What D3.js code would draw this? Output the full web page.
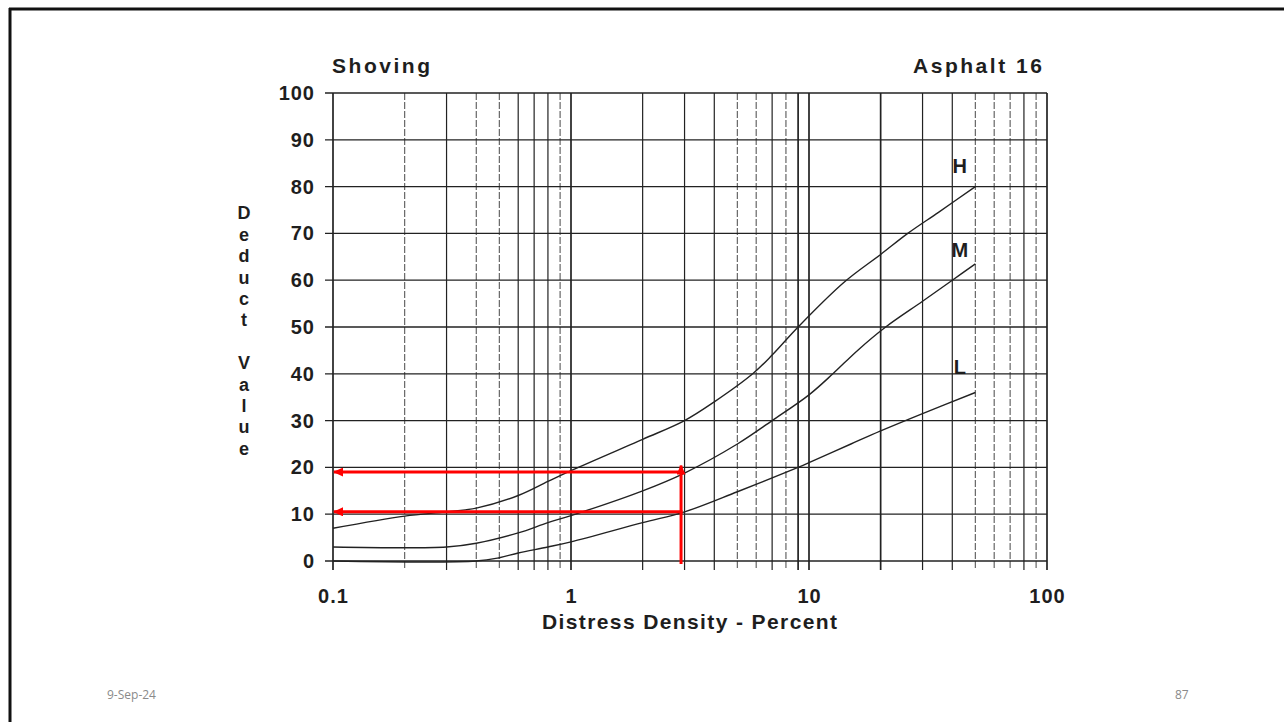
<!DOCTYPE html>
<html>
  <head>
    <meta charset="utf-8" />
    <title>Shoving - Asphalt 16</title>
    <style>
      body {
        margin: 0;
        background: #fff;
      }
      svg text {
        font-family: "Liberation Sans", Arial, sans-serif;
      }
      .scan {
        font-weight: bold;
        fill: #1e1e1e;
      }
      .foot {
        font-family: "Open Sans", sans-serif;
        font-size: 12px;
        fill: #8a8a8a;
      }
    </style>
  </head>
  <body>
    <svg id="chart" width="1284" height="722"></svg>

    <script src="https://d3js.org/d3.v7.min.js"></script>
    <script>
      // values
      var xTickValues = [0.1, 1, 10, 100];
      var yTickValues = [0, 10, 20, 30, 40, 50, 60, 70, 80, 90, 100];

      var hDensity = [0.1, 0.2, 0.3, 0.4, 0.6, 0.8, 1, 2, 3, 4, 5.8, 7, 9, 14, 20, 26, 35, 50];
      var hDeduct = [7, 9.6, 10.5, 11.3, 14, 17, 19.3, 26, 30, 34, 40, 44, 50, 59.5, 65.5, 70, 74.5, 80];

      var mDensity = [0.1, 0.3, 0.4, 0.6, 0.8, 1, 2, 3, 5, 7, 10, 12.6, 16, 21, 30, 40, 50];
      var mDeduct = [3, 3, 3.8, 6, 8.2, 9.7, 15, 18.8, 25, 30, 35.5, 40, 45, 50, 55.5, 60, 63.5];

      var lDensity = [0.1, 0.4, 0.5, 0.6, 0.8, 1, 2, 3, 5, 9, 10, 15, 20, 30, 50];
      var lDeduct = [0, 0, 0.7, 1.7, 3, 4.1, 8.2, 10.5, 14.8, 20, 21, 25, 27.8, 31.5, 36];

      var severities = ["H", "M", "L"];

      // red reading arrows
      var readDensity = 2.9;
      var readValues = [19, 10.5];

      var svg = d3.select("#chart");

      // slide frame (top and left edge visible)
      svg.append("line").attr("x1", 9).attr("x2", 1284).attr("y1", 9).attr("y2", 9)
        .attr("stroke", "#111").attr("stroke-width", 3);
      svg.append("line").attr("x1", 10).attr("x2", 10).attr("y1", 8).attr("y2", 722)
        .attr("stroke", "#111").attr("stroke-width", 3);

      var x = d3.scaleLog().domain([0.1, 100]).range([333, 1047]);
      var y = d3.scaleLinear().domain([0, 100]).range([561, 93]);

      // log grid (1..9 in each decade)
      var dashed = [0.2, 0.4, 0.5, 0.9, 5, 6, 8, 50, 60, 70, 90];
      var heavy = [0.1, 1, 9, 10, 20, 100];
      var inList = (list, d) => list.some((v) => Math.abs(v - d) < 1e-9);
      svg.append("g")
        .selectAll("line")
        .data(x.ticks())
        .enter()
        .append("line")
        .attr("x1", (d) => x(d))
        .attr("x2", (d) => x(d))
        .attr("y1", y(100))
        .attr("y2", y(0) + 9)
        .attr("stroke", (d) => (inList(dashed, d) ? "#666" : "#222"))
        .attr("stroke-width", (d) => (inList(heavy, d) ? 1.7 : 1.2))
        .attr("stroke-dasharray", (d) => (inList(dashed, d) ? "7,2" : null));

      svg.append("g")
        .selectAll("line")
        .data(yTickValues)
        .enter()
        .append("line")
        .attr("x1", x(0.1) - 8)
        .attr("x2", x(100))
        .attr("y1", (d) => y(d))
        .attr("y2", (d) => y(d))
        .attr("stroke", "#222")
        .attr("stroke-width", 1.3);

      // axes labels
      var yAxis = svg.append("g")
        .attr("transform", "translate(" + x(0.1) + ",0)")
        .call(d3.axisLeft(y).tickValues(yTickValues).tickSize(0).tickPadding(18));
      yAxis.select(".domain").remove();
      yAxis.selectAll("text").attr("class", "scan").style("font-size", "20px")
        .style("letter-spacing", "1px");

      var xAxis = svg.append("g")
        .attr("transform", "translate(0," + y(0) + ")")
        .call(d3.axisBottom(x).tickValues(xTickValues).tickFormat((d) => d).tickSize(0).tickPadding(28));
      xAxis.select(".domain").remove();
      xAxis.selectAll("text").attr("class", "scan").style("font-size", "20px")
        .style("letter-spacing", "1px");

      // curves
      var curves = [
        { name: "H", xs: hDensity, ys: hDeduct },
        { name: "M", xs: mDensity, ys: mDeduct },
        { name: "L", xs: lDensity, ys: lDeduct },
      ];
      var line = d3.line()
        .x((d) => x(d[0]))
        .y((d) => y(d[1]))
        .curve(d3.curveCatmullRom.alpha(0.5));

      svg.append("g")
        .selectAll("path")
        .data(curves)
        .enter()
        .append("path")
        .attr("d", (c) => line(c.xs.map((v, i) => [v, c.ys[i]])))
        .attr("fill", "none")
        .attr("stroke", "#222")
        .attr("stroke-width", 1.4);

      // severity labels next to the curve ends
      var labelAt = { H: 84.5, M: 66.5, L: 41.5 };
      svg.append("g")
        .selectAll("text")
        .data(severities)
        .enter()
        .append("text")
        .attr("class", "scan")
        .attr("x", x(43))
        .attr("y", (d) => y(labelAt[d]))
        .attr("dy", "0.36em")
        .attr("text-anchor", "middle")
        .style("font-size", "20px")
        .text((d) => d);

      // titles
      svg.append("text").attr("class", "scan").attr("x", 332).attr("y", 73)
        .attr("textLength", 98).attr("lengthAdjust", "spacing")
        .style("font-size", "21px").text("Shoving");
      svg.append("text").attr("class", "scan").attr("x", 913).attr("y", 73)
        .attr("textLength", 129).attr("lengthAdjust", "spacing")
        .style("font-size", "21px").text("Asphalt 16");
      svg.append("text").attr("class", "scan").attr("x", 542).attr("y", 629)
        .attr("textLength", 295).attr("lengthAdjust", "spacing")
        .style("font-size", "21px").text("Distress Density - Percent");

      // stacked y title
      var yLetters = "Deduct Value".split("");
      svg.append("g")
        .selectAll("text")
        .data(yLetters)
        .enter()
        .append("text")
        .attr("class", "scan")
        .attr("x", 244)
        .attr("y", (d, i) => 213 + i * 21.4)
        .attr("dy", "0.36em")
        .attr("text-anchor", "middle")
        .style("font-size", "18px")
        .text((d) => d);

      // red reading arrows
      var defs = svg.append("defs");
      defs.append("marker")
        .attr("id", "arrow")
        .attr("markerUnits", "userSpaceOnUse")
        .attr("viewBox", "0 0 10 9")
        .attr("markerWidth", 10)
        .attr("markerHeight", 9)
        .attr("refX", 9)
        .attr("refY", 4.5)
        .attr("orient", "auto")
        .append("path")
        .attr("d", "M0,0 L10,4.5 L0,9 Z")
        .attr("fill", "#ff0000");

      svg.append("line")
        .attr("x1", x(readDensity)).attr("x2", x(readDensity))
        .attr("y1", y(0) + 3).attr("y2", y(20.4))
        .attr("stroke", "#ff0000").attr("stroke-width", 3)
        .attr("marker-end", "url(#arrow)");

      svg.append("g")
        .selectAll("line")
        .data(readValues)
        .enter()
        .append("line")
        .attr("x1", x(readDensity) + 1.5)
        .attr("x2", x(0.1) + 1)
        .attr("y1", (d) => y(d))
        .attr("y2", (d) => y(d))
        .attr("stroke", "#ff0000")
        .attr("stroke-width", 3)
        .attr("marker-end", "url(#arrow)");

      // slide footer
      svg.append("text").attr("class", "foot").attr("x", 107).attr("y", 699).text("9-Sep-24");
      svg.append("text").attr("class", "foot").attr("x", 1175).attr("y", 699).text("87");
    </script>
  </body>
</html>
